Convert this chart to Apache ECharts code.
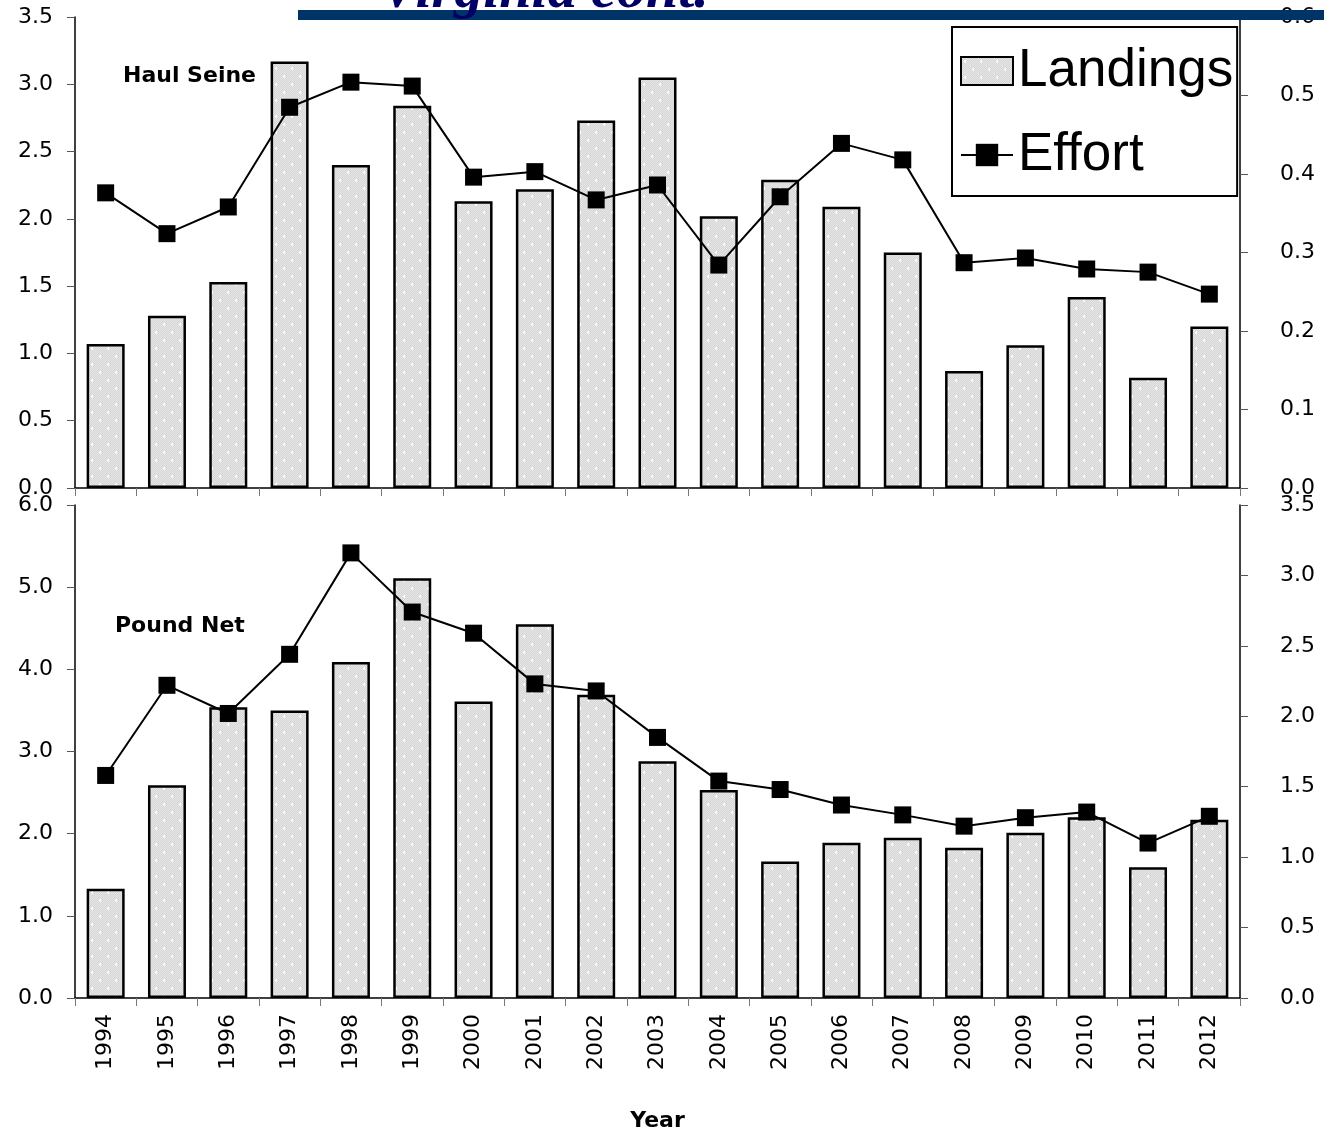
<!DOCTYPE html>
<html>
<head>
<meta charset="utf-8">
<script src="https://cdn.jsdelivr.net/npm/echarts@6/dist/echarts.min.js"></script>
<style>
html,body{margin:0;padding:0;background:#fff;}
#chart{width:1324px;height:1134px;}
</style>
</head>
<body>
<div id="chart"></div>
<script>
var years = ['1994','1995','1996','1997','1998','1999','2000','2001','2002','2003','2004','2005','2006','2007','2008','2009','2010','2011','2012'];
var haulSeineLandings = [1.07,1.28,1.53,3.17,2.40,2.84,2.13,2.22,2.73,3.05,2.02,2.29,2.09,1.75,0.87,1.06,1.42,0.82,1.20];
var haulSeineEffort = [0.376,0.324,0.358,0.485,0.517,0.512,0.396,0.403,0.367,0.386,0.284,0.371,0.439,0.418,0.287,0.293,0.279,0.275,0.247];
var poundNetLandings = [1.33,2.59,3.54,3.50,4.09,5.11,3.61,4.55,3.69,2.88,2.53,1.66,1.89,1.95,1.83,2.01,2.20,1.59,2.17];
var poundNetEffort = [1.58,2.22,2.02,2.44,3.16,2.74,2.59,2.23,2.18,1.85,1.54,1.48,1.37,1.30,1.22,1.28,1.32,1.10,1.29];
var topLeftTicks = ['0.0','0.5','1.0','1.5','2.0','2.5','3.0','3.5'];
var topRightTicks = ['0.0','0.1','0.2','0.3','0.4','0.5','0.6'];
var botLeftTicks = ['0.0','1.0','2.0','3.0','4.0','5.0','6.0'];
var botRightTicks = ['0.0','0.5','1.0','1.5','2.0','2.5','3.0','3.5'];

// dotted grey pattern for bars
var pc = document.createElement('canvas');
pc.width = 16; pc.height = 16;
var ctx = pc.getContext('2d');
ctx.fillStyle = '#d6d6d6'; ctx.fillRect(0,0,16,16);
for (var y=0;y<16;y++) for (var x=0;x<16;x++) {
  if ((x+y)%2===0) { ctx.fillStyle = '#e6e6e6'; ctx.fillRect(x,y,1,1); }
}
ctx.fillStyle = '#ffffff';
ctx.fillRect(3,4,2,1); ctx.fillRect(4,3,1,3);
ctx.fillRect(11,12,2,1); ctx.fillRect(12,11,1,3);
var barFill = {image: pc, repeat: 'repeat'};

var FONT = 'DejaVu Sans, sans-serif';
var LFONT = 'Liberation Sans, Arial, sans-serif';
var chart = echarts.init(document.getElementById('chart'), null, {renderer:'canvas'});

function yAxis(grid, max, interval, ticks, pos, margin) {
  return {
    type:'value', gridIndex:grid, min:0, max:max, interval:interval, position:pos,
    axisLine:{show:true, lineStyle:{color:'#000', width:1.5}},
    axisTick:{show:true, length:8, lineStyle:{color:'#555', width:1}},
    splitLine:{show:false},
    axisLabel:{margin:margin, color:'#000', fontSize:22, fontFamily:FONT,
      formatter:function(v){ return ticks[Math.round(v/interval)]; }}
  };
}

var option = {
  backgroundColor:'#fff',
  animation:false,
  grid:[
    {left:75, right:84, top:17, height:471},
    {left:75, right:84, top:505, height:493}
  ],
  xAxis:[
    {type:'category', gridIndex:0, data:years, boundaryGap:true,
     axisLine:{lineStyle:{color:'#000', width:1.5}},
     axisTick:{show:true, length:8, interval:0, lineStyle:{color:'#777'}},
     axisLabel:{show:false}},
    {type:'category', gridIndex:1, data:years, boundaryGap:true,
     axisLine:{lineStyle:{color:'#000', width:1.5}},
     axisTick:{show:true, length:8, interval:0, lineStyle:{color:'#777'}},
     axisLabel:{show:true, interval:0, rotate:90, margin:16, color:'#000', fontSize:22, fontFamily:FONT},
     name:'Year', nameLocation:'middle', nameGap:112,
     nameTextStyle:{fontSize:22, fontWeight:'bold', color:'#000', fontFamily:FONT}}
  ],
  yAxis:[
    yAxis(0, 3.5, 0.5, topLeftTicks, 'left', 22),
    yAxis(0, 0.6, 0.1, topRightTicks, 'right', 40),
    yAxis(1, 6, 1, botLeftTicks, 'left', 22),
    yAxis(1, 3.5, 0.5, botRightTicks, 'right', 40)
  ],
  legend:{
    data:[{name:'Landings', icon:'rect'}, {name:'Effort'}],
    orient:'vertical', left:952, top:27,
    padding:[14, 4, 11, 8], itemGap:24,
    itemWidth:52, itemHeight:28,
    borderColor:'#000', borderWidth:2, backgroundColor:'#fff',
    textStyle:{fontSize:53, lineHeight:60, fontFamily:LFONT, color:'#000'}
  },
  graphic:[
    {type:'text', left:123, top:65, style:{text:'Haul Seine', fontSize:22, fontWeight:'bold', fontFamily:FONT, fill:'#000'}},
    {type:'text', left:115, top:615, style:{text:'Pound Net', fontSize:22, fontWeight:'bold', fontFamily:FONT, fill:'#000'}},
    {type:'rect', shape:{x:298, y:10, width:1026, height:10}, style:{fill:'#003366'}, z:100},
    {type:'text', x:380, y:-37, z:101, style:{text:'Virginia cont.', fontSize:58, fontStyle:'italic', fontWeight:'bold', fontFamily:'Liberation Serif, DejaVu Serif, serif', fill:'#000066'}}
  ],
  series:[
    {name:'Landings', type:'bar', xAxisIndex:0, yAxisIndex:0, data:haulSeineLandings, barWidth:38,
     itemStyle:{color:barFill, borderColor:'#000', borderWidth:2.5}},
    {name:'Effort', type:'line', xAxisIndex:0, yAxisIndex:1, data:haulSeineEffort,
     symbol:'rect', symbolSize:17, itemStyle:{color:'#000'}, lineStyle:{color:'#000', width:2}},
    {name:'Landings', type:'bar', xAxisIndex:1, yAxisIndex:2, data:poundNetLandings, barWidth:38,
     itemStyle:{color:barFill, borderColor:'#000', borderWidth:2.5}},
    {name:'Effort', type:'line', xAxisIndex:1, yAxisIndex:3, data:poundNetEffort,
     symbol:'rect', symbolSize:17, itemStyle:{color:'#000'}, lineStyle:{color:'#000', width:2}}
  ]
};
chart.setOption(option);
</script>
</body>
</html>
